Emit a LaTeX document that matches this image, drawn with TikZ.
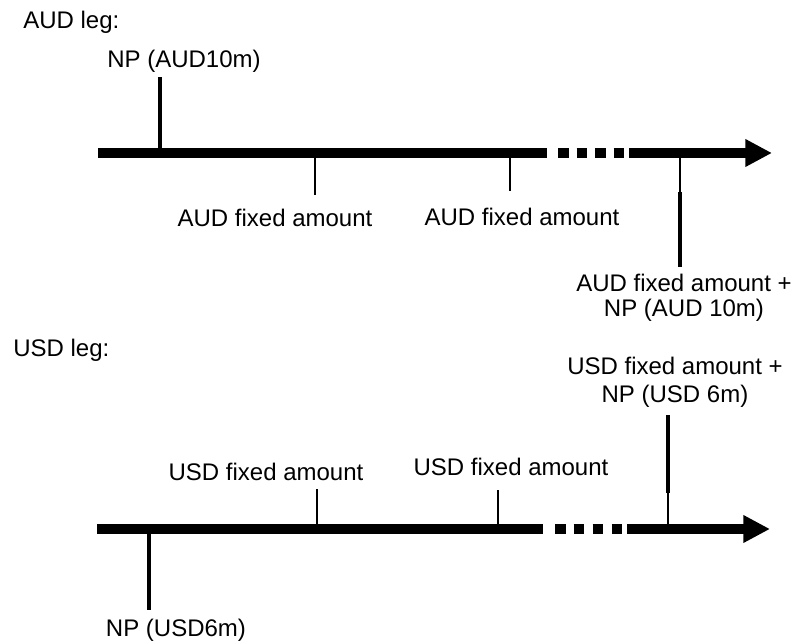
\documentclass[tikz,border=0pt]{standalone}
\usepackage{fontspec}
\setmainfont{Liberation Sans}
\usetikzlibrary{arrows.meta}
\begin{document}
\begin{tikzpicture}[x=0.75pt,y=-0.75pt,
  axis/.style={line width=7.5pt,line cap=butt},
  thintick/.style={line width=1.5pt},
  heavytick/.style={line width=3pt},
  lbl/.style={font=\fontsize{18}{22}\selectfont,inner sep=0pt},
  tipstyle/.style={-{Triangle[length=20pt,width=19.5pt]}}]
\useasboundingbox (0,0) rectangle (800,641);
% ---------------- AUD leg ----------------
\node[lbl,anchor=base west] (audtitle) at (23,29) {AUD leg:};
\coordinate (a0) at (98,153);
\coordinate (a1) at (547,153);
\coordinate (a2) at (629,153);
\coordinate (a3) at (772,153);
\draw[axis] (a0) -- (a1);
\foreach \x in {558,576.5,595,613.5} \draw[axis] (\x,153) -- ++(10.5,0);
\draw[axis,tipstyle] (a2) -- (a3);
% NP tick
\coordinate (anp) at (160,153);
\coordinate (anptop) at (160,77);
\draw[heavytick] (anp) -- (anptop);
\node[lbl,anchor=base] (anplbl) at (184,68) {NP (AUD10m)};
% fixed amounts
\coordinate (af1) at (315,153);
\coordinate (af1b) at (315,195);
\draw[thintick] (af1) -- (af1b);
\node[lbl,anchor=base] (af1lbl) at (275,227) {AUD fixed amount};
\coordinate (af2) at (510,153);
\coordinate (af2b) at (510,191);
\draw[thintick] (af2) -- (af2b);
\node[lbl,anchor=base] (af2lbl) at (522,226) {AUD fixed amount};
% final
\coordinate (afe) at (680,153);
\coordinate (afem) at (680,192);
\coordinate (afeb) at (680,267);
\draw[thintick] (afe) -- (afem);
\draw[heavytick] (afem) -- (afeb);
\node[lbl,anchor=base] (afelbl1) at (684,292) {AUD fixed amount +};
\node[lbl,anchor=base] (afelbl2) at (684,317) {NP (AUD 10m)};
% ---------------- USD leg ----------------
\node[lbl,anchor=base west] (usdtitle) at (13,357) {USD leg:};
\coordinate (u0) at (97,529);
\coordinate (u1) at (543,529);
\coordinate (u2) at (627,529);
\coordinate (u3) at (770,529);
\draw[axis] (u0) -- (u1);
\foreach \x in {555,573.5,592.5,611.5} \draw[axis] (\x,529) -- ++(10.5,0);
\draw[axis,tipstyle] (u2) -- (u3);
% NP tick
\coordinate (unp) at (149,529);
\coordinate (unpb) at (149,610);
\draw[heavytick] (unp) -- (unpb);
\node[lbl,anchor=base] (unplbl) at (176,636) {NP (USD6m)};
% fixed amounts
\coordinate (uf1) at (317,529);
\coordinate (uf1t) at (317,489);
\draw[thintick] (uf1) -- (uf1t);
\node[lbl,anchor=base] (uf1lbl) at (266,480) {USD fixed amount};
\coordinate (uf2) at (498,529);
\coordinate (uf2t) at (498,490);
\draw[thintick] (uf2) -- (uf2t);
\node[lbl,anchor=base] (uf2lbl) at (511,476) {USD fixed amount};
% final
\coordinate (ufe) at (668,529);
\coordinate (ufem) at (668,493);
\coordinate (ufet) at (668,415);
\draw[thintick] (ufe) -- (ufem);
\draw[heavytick] (ufem) -- (ufet);
\node[lbl,anchor=base] (ufelbl1) at (675,375) {USD fixed amount +};
\node[lbl,anchor=base] (ufelbl2) at (675,403) {NP (USD 6m)};
\end{tikzpicture}
\end{document}
